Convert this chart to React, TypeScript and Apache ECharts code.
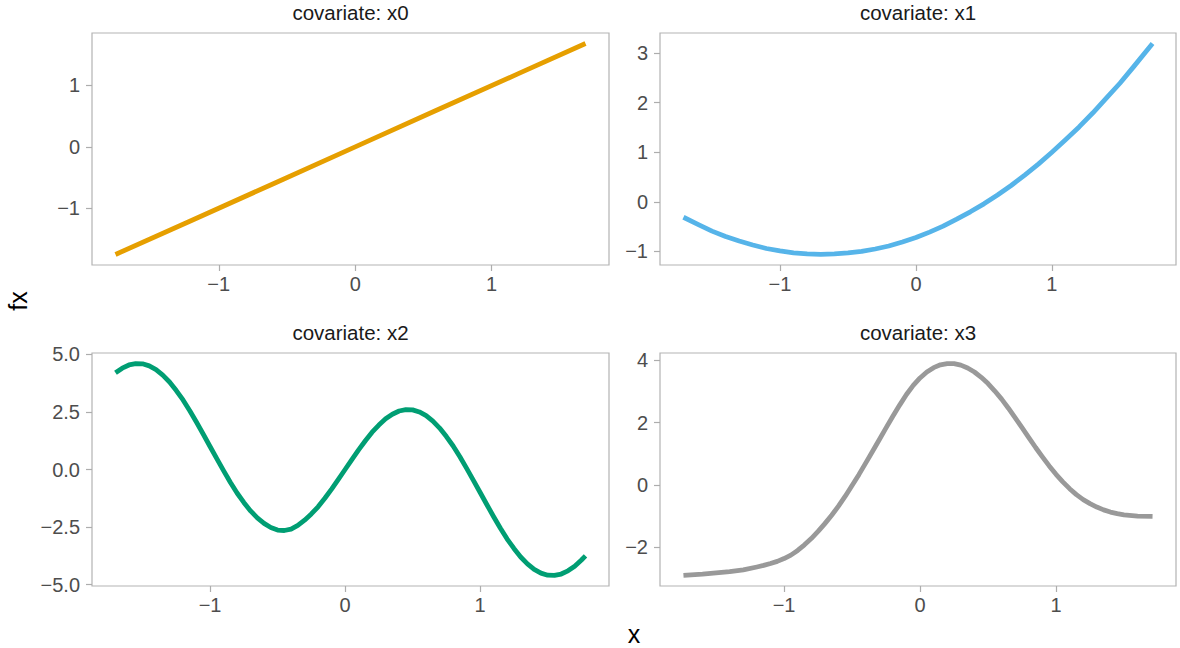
import { useEffect, useRef } from "react";
import * as echarts from "echarts";

// Partial effect of each covariate: x values and fitted fx values
const x0X = [-1.757, -1.2, -0.6, 0.0, 0.6, 1.2, 1.688];
const x0Y = [-1.752, -1.198, -0.6, 0.0, 0.6, 1.197, 1.683];

const x1X = [-1.71, -1.6, -1.5, -1.4, -1.3, -1.2, -1.1, -1.0, -0.9, -0.8, -0.7, -0.6, -0.5, -0.4, -0.3, -0.2, -0.1, 0.0,
  0.1, 0.2, 0.3, 0.4, 0.5, 0.6, 0.7, 0.8, 0.9, 1.0, 1.1, 1.2, 1.3, 1.4, 1.5, 1.6, 1.74];
const x1Y = [-0.31, -0.46, -0.59, -0.7, -0.79, -0.87, -0.94, -0.99, -1.03, -1.05, -1.06, -1.05, -1.03, -1.0, -0.95, -0.89, -0.81, -0.72,
  -0.61, -0.49, -0.35, -0.2, -0.04, 0.14, 0.33, 0.54, 0.76, 1.0, 1.25, 1.51, 1.79, 2.09, 2.39, 2.72, 3.19];

const x2X = [-1.7, -1.65, -1.6, -1.55, -1.5, -1.45, -1.4, -1.35, -1.3, -1.25, -1.2, -1.15, -1.1, -1.05, -1.0, -0.95,
  -0.9, -0.85, -0.8, -0.75, -0.7, -0.65, -0.6, -0.55, -0.5, -0.45, -0.4, -0.35, -0.3, -0.25, -0.2, -0.15, -0.1, -0.05,
  0.0, 0.05, 0.1, 0.15, 0.2, 0.25, 0.3, 0.35, 0.4, 0.45, 0.5, 0.55, 0.6, 0.65, 0.7, 0.75, 0.8, 0.85, 0.9, 0.95,
  1.0, 1.05, 1.1, 1.15, 1.2, 1.25, 1.3, 1.35, 1.4, 1.45, 1.5, 1.55, 1.6, 1.65, 1.7, 1.75, 1.78];
const x2Y = [4.2, 4.4, 4.54, 4.6, 4.59, 4.5, 4.34, 4.1, 3.8, 3.43, 3.02, 2.55, 2.05, 1.53, 1.0, 0.47,
  -0.05, -0.55, -1.02, -1.43, -1.8, -2.1, -2.34, -2.52, -2.63, -2.65, -2.59, -2.43, -2.2, -1.93, -1.62, -1.25, -0.85, -0.43,
  0.0, 0.43, 0.85, 1.25, 1.62, 1.93, 2.2, 2.4, 2.54, 2.6, 2.59, 2.5, 2.34, 2.1, 1.8, 1.43, 1.02, 0.55, 0.05, -0.47,
  -1.0, -1.53, -2.05, -2.55, -3.02, -3.43, -3.8, -4.1, -4.34, -4.5, -4.59, -4.6, -4.54, -4.4, -4.2, -3.93, -3.75];

const x3X = [-1.74, -1.6, -1.5, -1.4, -1.3, -1.2, -1.15, -1.1, -1.05, -1.0, -0.95, -0.9, -0.85, -0.8, -0.75, -0.7, -0.65,
  -0.6, -0.55, -0.5, -0.45, -0.4, -0.35, -0.3, -0.25, -0.2, -0.15, -0.1, -0.05, 0.0, 0.05, 0.1, 0.15, 0.2, 0.25, 0.3,
  0.35, 0.4, 0.45, 0.5, 0.55, 0.6, 0.65, 0.7, 0.75, 0.8, 0.85, 0.9, 0.95, 1.0, 1.05, 1.1, 1.15, 1.2, 1.25, 1.3, 1.35,
  1.4, 1.45, 1.5, 1.6, 1.71];
const x3Y = [-2.9, -2.86, -2.82, -2.78, -2.72, -2.63, -2.58, -2.52, -2.45, -2.36, -2.25, -2.1, -1.92, -1.72, -1.49, -1.24, -0.97,
  -0.68, -0.36, -0.02, 0.33, 0.7, 1.07, 1.45, 1.83, 2.2, 2.56, 2.9, 3.19, 3.43, 3.62, 3.76, 3.85, 3.89, 3.89, 3.84,
  3.75, 3.62, 3.45, 3.25, 3.01, 2.75, 2.46, 2.15, 1.84, 1.52, 1.2, 0.9, 0.61, 0.34, 0.1, -0.12, -0.31, -0.47, -0.6, -0.71, -0.8,
  -0.87, -0.92, -0.96, -1.0, -1.01];

// Tick labels
const xTicks = [-1, 0, 1];
const yTicks0 = [-1, 0, 1];
const yTicks1 = [-1, 0, 1, 2, 3];
const yTicks2 = [-5, -2.5, 0, 2.5, 5];
const yTicks3 = [-2, 0, 2, 4];

const panelTitles = ["covariate: x0", "covariate: x1", "covariate: x2", "covariate: x3"];
const lineColors = ["#E69F00", "#56B4E9", "#009E73", "#999999"];

const FONT = "'Liberation Sans', Arial, Helvetica, sans-serif";

const panels = [
  { xs: x0X, ys: x0Y, yTicks: yTicks0, decimals: 0, box: { left: 92, top: 33, width: 517, height: 232 } },
  { xs: x1X, ys: x1Y, yTicks: yTicks1, decimals: 0, box: { left: 660, top: 33, width: 516, height: 232 } },
  { xs: x2X, ys: x2Y, yTicks: yTicks2, decimals: 1, box: { left: 92, top: 353, width: 517, height: 233 } },
  { xs: x3X, ys: x3Y, yTicks: yTicks3, decimals: 0, box: { left: 660, top: 353, width: 516, height: 233 } },
];

// ggplot-style 5% expansion of the data range
function expanded(vals: number[]) {
  const lo = Math.min(...vals);
  const hi = Math.max(...vals);
  const pad = (hi - lo) * 0.05;
  return { min: lo - pad, max: hi + pad };
}

function fmt(v: number, decimals: number) {
  return v.toFixed(decimals).replace("-", "\u2212");
}

export default function App() {
  const ref = useRef<HTMLDivElement>(null);

  useEffect(() => {
    if (!ref.current) return;
    const chart = echarts.init(ref.current, undefined, { renderer: "svg" });

    const tickStyle = { color: "#adadad", width: 1.2 };
    const labelBase = { color: "#4d4d4d", fontSize: 20, fontFamily: FONT };

    const grid = panels.map((p) => ({
      ...p.box,
      show: true,
      borderColor: "#b3b3b3",
      borderWidth: 1.2,
      backgroundColor: "transparent",
      containLabel: false,
    }));

    const xAxis = panels.map((p, i) => {
      const r = expanded(p.xs);
      return {
        type: "value",
        gridIndex: i,
        position: "bottom",
        min: r.min,
        max: r.max,
        axisLine: { show: false, onZero: false },
        splitLine: { show: false },
        axisTick: { show: true, inside: false, length: 6, lineStyle: tickStyle, customValues: xTicks },
        axisLabel: { ...labelBase, margin: 9, customValues: xTicks, formatter: (v: number) => fmt(v, 0) },
      };
    });

    const yAxis = panels.map((p, i) => {
      const r = expanded(p.ys);
      return {
        type: "value",
        gridIndex: i,
        position: "left",
        min: r.min,
        max: r.max,
        axisLine: { show: false, onZero: false },
        splitLine: { show: false },
        axisTick: { show: true, inside: false, length: 6, lineStyle: tickStyle, customValues: p.yTicks },
        axisLabel: { ...labelBase, margin: 12, customValues: p.yTicks, formatter: (v: number) => fmt(v, p.decimals) },
      };
    });

    const series = panels.map((p, i) => ({
      type: "line",
      xAxisIndex: i,
      yAxisIndex: i,
      data: p.xs.map((x, j) => [x, p.ys[j]]),
      showSymbol: false,
      smooth: false,
      silent: true,
      lineStyle: { width: 4.8, color: lineColors[i], cap: "butt", join: "round" },
    }));

    const stripText = panels.map((p, i) => ({
      type: "text",
      x: p.box.left + p.box.width / 2,
      y: p.box.top - 21,
      style: {
        text: panelTitles[i],
        fill: "#1a1a1a",
        font: `20.5px ${FONT}`,
        textAlign: "center",
        textVerticalAlign: "middle",
      },
    }));

    chart.setOption({
      animation: false,
      backgroundColor: "#ffffff",
      grid,
      xAxis,
      yAxis,
      series,
      graphic: [
        ...stripText,
        {
          type: "text",
          x: 634,
          y: 634,
          style: {
            text: "x",
            fill: "#000000",
            font: `25px ${FONT}`,
            lineHeight: 22,
            textAlign: "center",
            textVerticalAlign: "middle",
          },
        },
        {
          type: "text",
          x: 18,
          y: 301,
          rotation: Math.PI / 2,
          style: { text: "fx", fill: "#000000", font: `25px ${FONT}`, textAlign: "center", textVerticalAlign: "middle" },
        },
      ],
    });

    return () => chart.dispose();
  }, []);

  return <div ref={ref} style={{ position: "absolute", left: 0, top: 0, width: 1180, height: 648 }} />;
}
